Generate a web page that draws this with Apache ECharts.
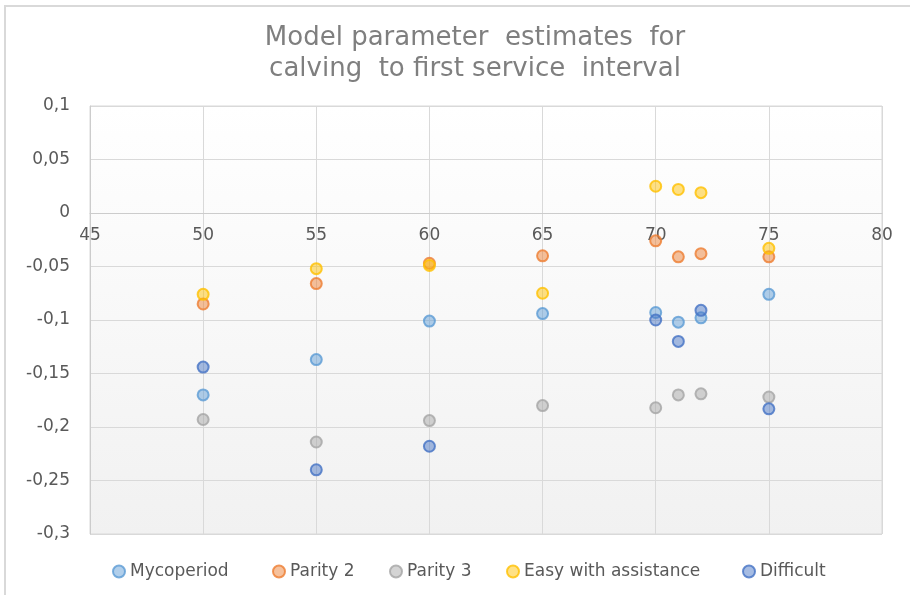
<!DOCTYPE html>
<html>
<head>
<meta charset="utf-8">
<script src="https://cdn.jsdelivr.net/npm/echarts@6/dist/echarts.min.js"></script>
<style>
  html, body { margin: 0; padding: 0; background: #fff; }
  #chart { width: 910px; height: 595px; }
</style>
</head>
<body>
<div id="chart"></div>
<script>
// x values (days) shared by all series
const xValues = [50, 55, 60, 65, 70, 71, 72, 75];

const mycoperiod = [-0.170, -0.137, -0.101, -0.094, -0.093, -0.102, -0.098, -0.076];
const parity2 = [-0.085, -0.066, -0.047, -0.040, -0.026, -0.041, -0.038, -0.041];
const parity3 = [-0.193, -0.214, -0.194, -0.180, -0.182, -0.170, -0.169, -0.172];
const easyWithAssistance = [-0.076, -0.052, -0.049, -0.075, 0.025, 0.022, 0.019, -0.033];
const difficult = [-0.144, -0.240, -0.218, null, -0.100, -0.120, -0.091, -0.183];

const seriesNames = ["Mycoperiod", "Parity 2", "Parity 3", "Easy with assistance", "Difficult"];
const seriesValues = [mycoperiod, parity2, parity3, easyWithAssistance, difficult];
const seriesColors = ["#5B9BD5", "#ED7D31", "#A5A5A5", "#FFC000", "#4472C4"];

// left edge of each legend entry, as in the picture
const legendLeft = [107, 267, 384, 501, 737];

const chart = echarts.init(document.getElementById("chart"));

function toPoints(values) {
  const pts = [];
  values.forEach((v, i) => {
    if (v !== null) pts.push([xValues[i], v]);
  });
  return pts;
}

function fill(hex) {
  const r = parseInt(hex.slice(1, 3), 16);
  const g = parseInt(hex.slice(3, 5), 16);
  const b = parseInt(hex.slice(5, 7), 16);
  return "rgba(" + r + "," + g + "," + b + ",0.6)";
}

const textColor = "#595959";
const font = "DejaVu Sans";

// grid: top 106, bottom 61 -> plot height 428, y = 0 sits 321px above the bottom
chart.setOption({
  animation: false,
  title: {
    text: "Model parameter  estimates  for\ncalving  to first service  interval",
    left: 470,
    top: 18,
    textAlign: "center",
    textStyle: {
      fontFamily: font,
      fontSize: 26,
      fontWeight: "normal",
      color: "#7f7f7f",
      lineHeight: 31
    }
  },
  graphic: [{
    type: "rect",
    shape: { x: 5, y: 6, width: 1000, height: 700 },
    style: { fill: "none", stroke: "#d9d9d9", lineWidth: 2 },
    silent: true
  }],
  legend: seriesNames.map((name, i) => ({
    top: 558,
    left: legendLeft[i],
    itemWidth: 12,
    itemHeight: 12,
    itemGap: 6,
    icon: "circle",
    textStyle: { fontFamily: font, fontSize: 17, color: textColor },
    data: [name]
  })),
  grid: {
    left: 90,
    right: 28,
    top: 106,
    bottom: 61,
    show: true,
    borderColor: "#d9d9d9",
    borderWidth: 1,
    backgroundColor: new echarts.graphic.LinearGradient(0, 0, 0, 1, [
      { offset: 0, color: "#ffffff" },
      { offset: 1, color: "#f1f1f1" }
    ])
  },
  xAxis: {
    type: "value",
    min: 45,
    max: 80,
    interval: 5,
    position: "bottom",
    offset: -321,
    axisLine: { onZero: false, lineStyle: { color: "#cccccc" } },
    axisTick: { show: false },
    axisLabel: {
      color: textColor,
      fontFamily: font,
      fontSize: 17,
      margin: 14
    },
    splitLine: { show: true, lineStyle: { color: "#d9d9d9" } }
  },
  yAxis: {
    type: "value",
    min: -0.3,
    max: 0.1,
    interval: 0.05,
    axisLine: { show: true, onZero: false, lineStyle: { color: "#cccccc" } },
    axisTick: { show: false },
    axisLabel: {
      color: textColor,
      fontFamily: font,
      fontSize: 17,
      margin: 20,
      formatter: v => String(Math.round(v * 100) / 100).replace(".", ",")
    },
    splitLine: { lineStyle: { color: "#d9d9d9" } }
  },
  series: seriesNames.map((name, i) => ({
    name: name,
    type: "scatter",
    symbol: "circle",
    symbolSize: 11,
    itemStyle: {
      color: fill(seriesColors[i]),
      borderColor: seriesColors[i],
      borderWidth: 2
    },
    data: toPoints(seriesValues[i])
  }))
});
</script>
</body>
</html>
